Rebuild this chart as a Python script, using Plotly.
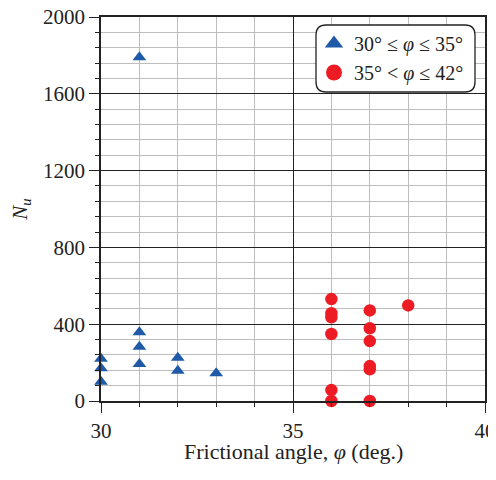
import plotly.graph_objects as go

# Data
blue_x = [30, 30, 30, 31, 31, 31, 31, 32, 32, 33]
blue_y = [220, 170, 100, 1790, 358, 283, 193, 225, 158, 145]
red_x = [36, 36, 36, 36, 36, 36, 37, 37, 37, 37, 37, 37, 38]
red_y = [531, 457, 436, 349, 57, 0, 472, 379, 312, 182, 165, 0, 498]
x_ticks = [30, 35, 40]
y_ticks = [0, 400, 800, 1200, 1600, 2000]
names = ["30° ≤ <i>φ</i> ≤ 35°", "35° &lt; <i>φ</i> ≤ 42°"]
x_title = "Frictional angle, <i>φ</i> (deg.)"
y_title = "<i>N<sub>u</sub></i>"

FONT = "Times New Roman"
DARK = "#222222"
GRID = "#bdbdbd"
BLUE = "#1f5aa8"
RED = "#ed1c24"
TXT = "#222"
TICKFONT = dict(family=FONT, size=21, color=TXT)

fig = go.Figure()
fig.add_trace(go.Scatter(
    x=blue_x, y=blue_y, mode="markers", cliponaxis=False, showlegend=False,
    marker=dict(symbol="triangle-up", size=12, color=BLUE),
))
fig.add_trace(go.Scatter(
    x=red_x, y=red_y, mode="markers", cliponaxis=False, showlegend=False,
    marker=dict(symbol="circle", size=12.5, color=RED),
))
# legend entries
fig.add_trace(go.Scatter(x=[None], y=[None], mode="markers", name=names[0],
                         marker=dict(symbol="triangle-up", size=16, color=BLUE)))
fig.add_trace(go.Scatter(x=[None], y=[None], mode="markers", name=names[1],
                         marker=dict(symbol="circle", size=16, color=RED)))
# empty trace carrying the overlay axes used for the small tick marks
fig.add_trace(go.Scatter(x=[None], y=[None], mode="markers", showlegend=False,
                         xaxis="x2", yaxis="y2", hoverinfo="skip"))

# Layout geometry (page has an 8px body margin)
W, H = 488, 464
L, R, T, B = 93, 11, 9, 71
pw, ph = W - L - R, H - T - B
def px(xp): return (xp - 8 - L) / pw
def py(yp): return 1 - (yp - 8 - T) / ph

fig.add_annotation(text=x_title, xref="paper", yref="paper", x=0.5, y=py(451),
                   xanchor="center", yanchor="middle", showarrow=False,
                   font=dict(family=FONT, size=22, color=TXT))

# Rounded legend box
x0, x1, y0, y1, r = 316, 475, 25, 92, 10
path = (f"M {px(x0+r)} {py(y0)} L {px(x1-r)} {py(y0)} Q {px(x1)} {py(y0)} {px(x1)} {py(y0+r)} "
        f"L {px(x1)} {py(y1-r)} Q {px(x1)} {py(y1)} {px(x1-r)} {py(y1)} "
        f"L {px(x0+r)} {py(y1)} Q {px(x0)} {py(y1)} {px(x0)} {py(y1-r)} "
        f"L {px(x0)} {py(y0+r)} Q {px(x0)} {py(y0)} {px(x0+r)} {py(y0)} Z")
fig.add_shape(type="path", path=path, xref="paper", yref="paper",
              fillcolor="white", line=dict(color=DARK, width=1.3), layer="above")

fig.update_layout(
    width=W, height=H,
    margin=dict(l=L, r=R, t=T, b=B, autoexpand=False),
    plot_bgcolor="white", paper_bgcolor="white",
    font=dict(family=FONT, size=18, color=TXT),
    showlegend=True,
    legend=dict(x=px(314), y=py(24), xanchor="left", yanchor="top",
                bgcolor="rgba(0,0,0,0)", borderwidth=0,
                font=dict(family=FONT, size=20, color=TXT),
                itemwidth=30, tracegroupgap=0),
    xaxis=dict(
        range=[30, 40], tickmode="array", tickvals=x_ticks, ticks="outside", ticklen=10,
        tickcolor=DARK, tickwidth=1.3,
        showgrid=True, gridcolor=DARK, gridwidth=1.3,
        showline=True, linecolor=DARK, linewidth=1.5, mirror=True,
        zeroline=False, automargin=False, ticklabeloverflow="allow",
        minor=dict(dtick=1, showgrid=True, gridcolor=GRID, gridwidth=1.3),
        tickfont=TICKFONT,
    ),
    yaxis=dict(
        range=[0, 2000], tickmode="array", tickvals=y_ticks, ticks="outside", ticklen=10,
        tickcolor=DARK, tickwidth=1.3,
        showgrid=True, gridcolor=DARK, gridwidth=1.3,
        showline=True, linecolor=DARK, linewidth=1.5, mirror=True,
        zeroline=False, automargin=False, ticklabeloverflow="allow",
        minor=dict(dtick=80, showgrid=True, gridcolor=GRID, gridwidth=1.3),
        tickfont=TICKFONT,
        title=dict(text=y_title, font=dict(family=FONT, size=21, color=TXT), standoff=13),
    ),
    xaxis2=dict(
        range=[30, 40], overlaying="x", anchor="y2", side="bottom",
        tickmode="linear", tick0=30, dtick=1, ticks="outside", ticklen=5,
        tickcolor=DARK, tickwidth=1.3, showticklabels=False, showgrid=False,
        zeroline=False, showline=False, automargin=False,
    ),
    yaxis2=dict(
        range=[0, 2000], overlaying="y", anchor="x2", side="left",
        tickmode="linear", tick0=0, dtick=80, ticks="outside", ticklen=5,
        tickcolor=DARK, tickwidth=1.3, showticklabels=False, showgrid=False,
        zeroline=False, showline=False, automargin=False,
    ),
)
fig.write_html("out.html")
